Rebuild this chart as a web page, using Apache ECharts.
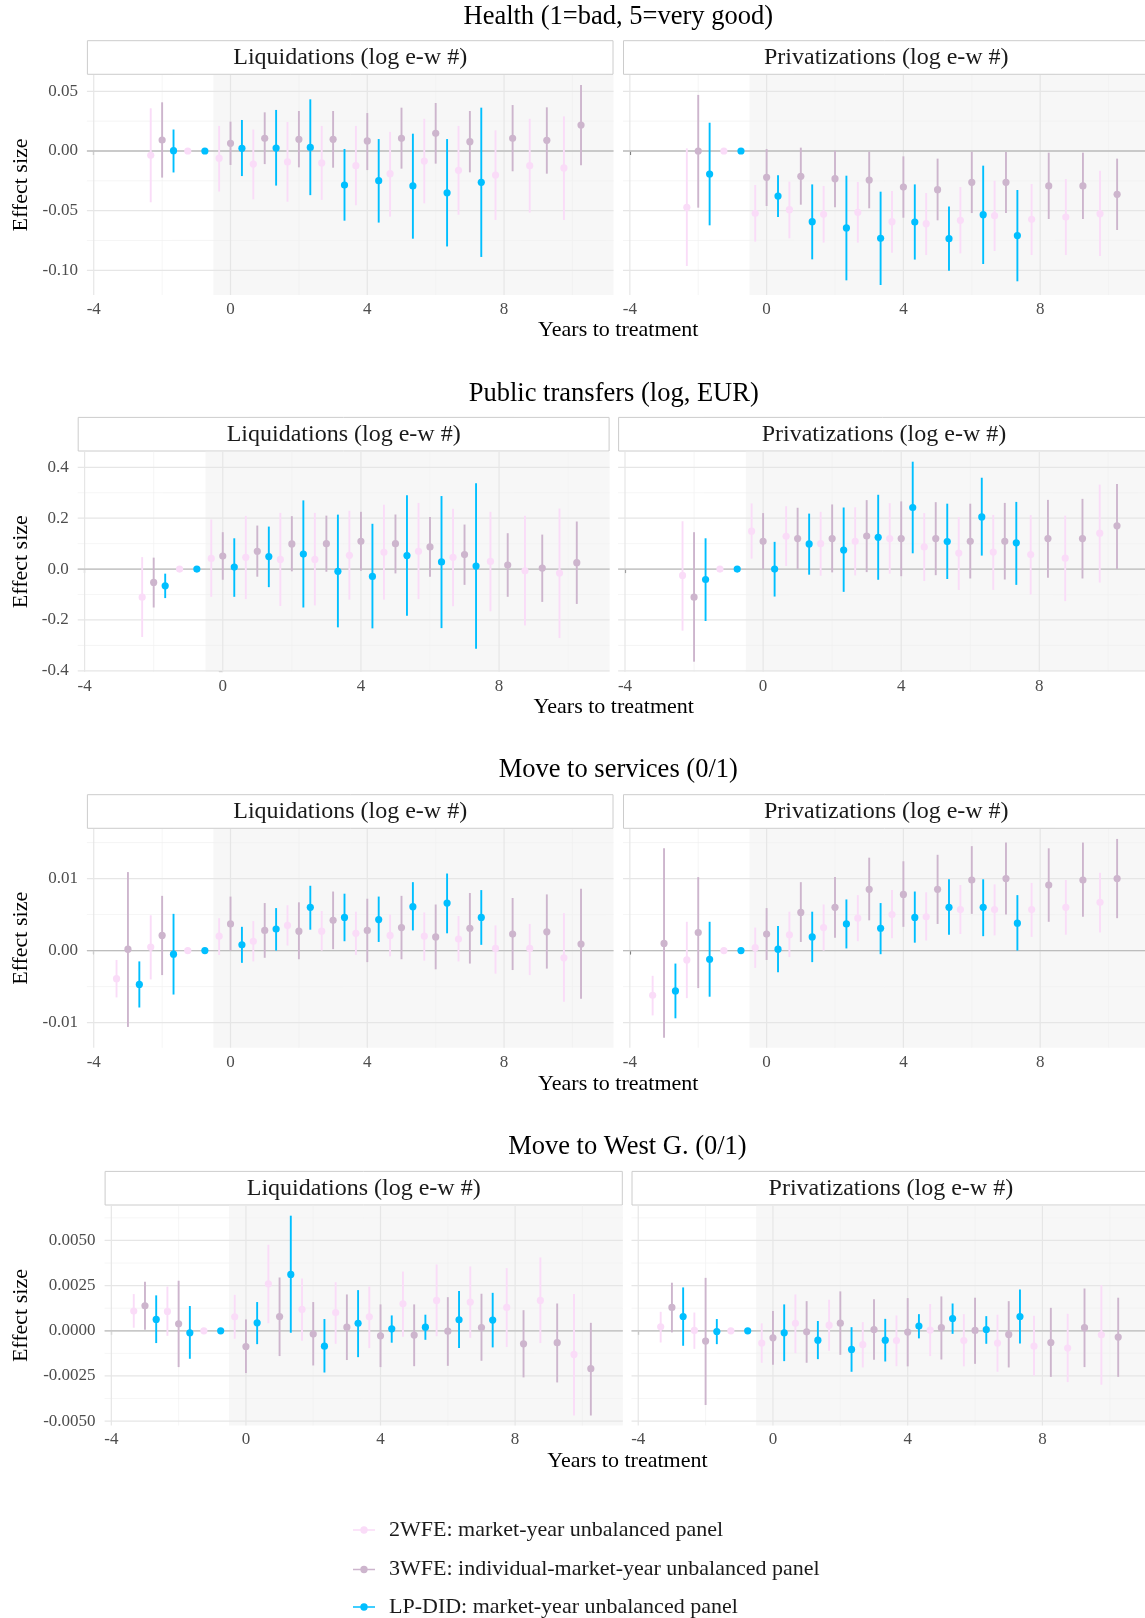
<!DOCTYPE html>
<html>
<head>
<meta charset="utf-8">
<title>Event-study estimates</title>
<script src="https://cdn.jsdelivr.net/npm/echarts@6/dist/echarts.min.js"></script>
<style>
  html, body { margin: 0; padding: 0; background: #fff; }
  #main { width: 1145px; height: 1618px; }
</style>
</head>
<body>
<div id="main"></div>
<script>
// event time relative to treatment
const years = [-3, -2, -1, 0, 1, 2, 3, 4, 5, 6, 7, 8, 9, 10];
const xTicks = [-4, 0, 4, 8];
const xMinorTicks = [-2, 2, 6, 10];

const methods = [
  '2WFE: market-year unbalanced panel',
  '3WFE: individual-market-year unbalanced panel',
  'LP-DID: market-year unbalanced panel'
];
const facetNames = ['Liquidations (log e-w #)', 'Privatizations (log e-w #)'];
const outcomes = ['Health (1=bad, 5=very good)', 'Public transfers (log, EUR)', 'Move to services (0/1)', 'Move to West G. (0/1)'];

const healthTicks = [-0.10, -0.05, 0, 0.05];
const transfersTicks = [-0.4, -0.2, 0, 0.2, 0.4];
const servicesTicks = [-0.01, 0, 0.01];
const westTicks = [-0.005, -0.0025, 0, 0.0025, 0.005];

// [estimate, lower, upper] per event time (years)
const healthLiq2wfe = [null, [-0.0036,-0.043,0.0358], [0,0,0], [-0.006,-0.034,0.021], [-0.011,-0.0405,0.018], [-0.0092,-0.0425,0.0243], [-0.010,-0.041,0.021], [-0.0123,-0.0455,0.021], [-0.019,-0.055,0.016], [-0.0084,-0.0439,0.027], [-0.0162,-0.0534,0.021], [-0.0201,-0.0578,0.0173], [-0.0123,-0.0517,0.027], [-0.0142,-0.0578,0.029]];
const healthLiq3wfe = [null, [0.0092,-0.0223,0.0408], null, [0.0064,-0.0117,0.0246], [0.0106,-0.011,0.0324], [0.0098,-0.0137,0.0335], [0.0098,-0.014,0.0335], [0.0084,-0.016,0.0318], [0.0106,-0.0148,0.0363], [0.0148,-0.0106,0.0402], [0.0078,-0.0179,0.0335], [0.0106,-0.017,0.0385], [0.0089,-0.019,0.0366], [0.0218,-0.012,0.0553]];
const healthLiqLpdid = [null, [0.0003,-0.018,0.018], [0,0,0], [0.0022,-0.021,0.026], [0.0025,-0.029,0.0344], [0.003,-0.037,0.0433], [-0.0285,-0.0584,0.0017], [-0.0249,-0.060,0.010], [-0.0293,-0.0735,0.0145], [-0.035,-0.080,0.010], [-0.0263,-0.0888,0.0363], null, null, null];

const healthPriv2wfe = [null, [-0.0472,-0.0964,0.0022], [0,0,0], [-0.0522,-0.076,-0.0285], [-0.0492,-0.0732,-0.0257], [-0.0531,-0.0768,-0.0293], [-0.0514,-0.0768,-0.026], [-0.0592,-0.0852,-0.0335], [-0.0609,-0.0872,-0.0352], [-0.0581,-0.0858,-0.0302], [-0.0542,-0.0838,-0.0249], [-0.0573,-0.0872,-0.0277], [-0.0553,-0.0872,-0.0235], [-0.0525,-0.088,-0.0165]];
const healthPriv3wfe = [null, [0.0,-0.0475,0.047], null, [-0.0221,-0.0461,0.0017], [-0.0212,-0.045,0.0028], [-0.0232,-0.0472,0.0003], [-0.0243,-0.048,-0.0006], [-0.0302,-0.0559,-0.0045], [-0.0324,-0.0581,-0.0064], [-0.0263,-0.052,-0.0006], [-0.0263,-0.052,-0.0008], [-0.0293,-0.057,-0.0014], [-0.0293,-0.057,-0.0014], [-0.0363,-0.0662,-0.0064]];
const healthPrivLpdid = [null, [-0.0193,-0.0623,0.0237], [0,0,0], [-0.0377,-0.0553,-0.0204], [-0.0592,-0.0908,-0.028], [-0.0645,-0.1084,-0.0207], [-0.0732,-0.1123,-0.0341], [-0.0595,-0.091,-0.028], [-0.0735,-0.1003,-0.0466], [-0.0534,-0.0947,-0.0123], [-0.0709,-0.1092,-0.0327], null, null, null];

const transfersLiq2wfe = [null, [-0.1105,-0.267,0.047], [0,0,0], [0.042,-0.109,0.195], [0.046,-0.118,0.209], [0.038,-0.145,0.221], [0.038,-0.143,0.221], [0.054,-0.12,0.229], [0.066,-0.12,0.253], [0.070,-0.118,0.26], [0.046,-0.146,0.237], [0.030,-0.166,0.225], [-0.0066,-0.222,0.21], [-0.0158,-0.271,0.238]];
const transfersLiq3wfe = [null, [-0.0526,-0.151,0.045], null, [0.051,-0.042,0.145], [0.070,-0.030,0.171], [0.099,-0.009,0.208], [0.100,-0.0105,0.21], [0.109,-0.0066,0.225], [0.100,-0.017,0.2145], [0.087,-0.030,0.205], [0.057,-0.062,0.175], [0.016,-0.109,0.141], [0.004,-0.129,0.1355], [0.025,-0.137,0.187]];
const transfersLiqLpdid = [null, [-0.0658,-0.114,-0.018], [0,0,0], [0.008,-0.109,0.121], [0.049,-0.071,0.167], [0.059,-0.151,0.27], [-0.009,-0.229,0.214], [-0.029,-0.233,0.178], [0.053,-0.183,0.29], [0.028,-0.232,0.287], [0.012,-0.313,0.337], null, null, null];

const transfersPriv2wfe = [null, [-0.025,-0.242,0.188], [0,0,0], [0.149,0.041,0.258], [0.129,0.012,0.247], [0.100,-0.026,0.225], [0.109,-0.025,0.243], [0.120,-0.018,0.259], [0.087,-0.047,0.22], [0.063,-0.082,0.204], [0.067,-0.082,0.213], [0.057,-0.100,0.212], [0.043,-0.126,0.21], [0.141,-0.053,0.332]];
const transfersPriv3wfe = [null, [-0.1105,-0.364,0.145], null, [0.109,0.0,0.22], [0.120,0.0,0.241], [0.120,-0.013,0.254], [0.130,-0.012,0.271], [0.120,-0.028,0.266], [0.120,-0.024,0.263], [0.109,-0.037,0.257], [0.109,-0.041,0.26], [0.120,-0.034,0.272], [0.120,-0.037,0.276], [0.170,0.0,0.334]];
const transfersPrivLpdid = [null, [-0.041,-0.204,0.121], [0,0,0], [0.0,-0.108,0.107], [0.099,-0.022,0.218], [0.075,-0.0895,0.242], [0.125,-0.042,0.292], [0.242,0.062,0.422], [0.108,-0.039,0.257], [0.205,0.053,0.359], [0.103,-0.062,0.264], null, null, null];

const servicesLiq2wfe = [[-0.0039,-0.0065,-0.0013], [0.0005,-0.004,0.0049], [0,0,0], [0.002,-0.0006,0.0045], [0.0013,-0.0015,0.0041], [0.0035,0.0007,0.0063], [0.0027,0.0,0.0055], [0.0024,-0.0006,0.0054], [0.0021,-0.0008,0.005], [0.002,-0.0014,0.0053], [0.0016,-0.0015,0.0048], [0.0003,-0.0032,0.0035], [0.0003,-0.0034,0.0037], [-0.001,-0.0071,0.0052]];
const servicesLiq3wfe = [[0.0002,-0.0106,0.0109], [0.0021,-0.0034,0.0076], null, [0.0037,0.0,0.0075], [0.0028,-0.001,0.0066], [0.0027,-0.0012,0.0067], [0.0042,0.0002,0.0082], [0.0028,-0.0016,0.0072], [0.0032,-0.0012,0.0076], [0.0019,-0.0026,0.0064], [0.0031,-0.0018,0.008], [0.0023,-0.0027,0.0073], [0.0026,-0.0025,0.0078], [0.0009,-0.0067,0.0086]];
const servicesLiqLpdid = [[-0.0047,-0.0079,-0.0015], [-0.0005,-0.0061,0.0051], [0,0,0], [0.0008,-0.0017,0.0033], [0.003,0.0,0.0059], [0.006,0.0029,0.009], [0.0046,0.0013,0.0079], [0.0043,0.0012,0.0075], [0.0061,0.0028,0.0095], [0.0066,0.0024,0.0107], [0.0046,0.0008,0.0084], null, null, null];

const servicesPriv2wfe = [[-0.0062,-0.009,-0.0035], [-0.0013,-0.0066,0.004], [0,0,0], [0.0004,-0.0024,0.0032], [0.0022,-0.0009,0.0054], [0.0032,0.0,0.0064], [0.0045,0.0013,0.0077], [0.005,0.0017,0.0084], [0.0047,0.0014,0.0081], [0.0057,0.0023,0.0091], [0.0057,0.0021,0.0092], [0.0057,0.0019,0.0094], [0.006,0.0022,0.0098], [0.0067,0.0025,0.0108]];
const servicesPriv3wfe = [[0.001,-0.0121,0.0142], [0.0025,-0.0052,0.0102], null, [0.0023,-0.0013,0.0059], [0.0053,0.0012,0.0095], [0.006,0.0018,0.0102], [0.0085,0.0042,0.0129], [0.0078,0.0033,0.0124], [0.0085,0.0037,0.0133], [0.0098,0.0051,0.0145], [0.010,0.005,0.015], [0.0091,0.004,0.0142], [0.0098,0.0047,0.015], [0.010,0.0045,0.0155]];
const servicesPrivLpdid = [[-0.0056,-0.0094,-0.0018], [-0.0012,-0.0064,0.004], [0,0,0], [0.0002,-0.003,0.0034], [0.0019,-0.0016,0.0054], [0.0037,0.0003,0.0071], [0.0031,-0.0005,0.0066], [0.0046,0.0011,0.0082], [0.006,0.0022,0.0099], [0.006,0.002,0.0099], [0.0038,0.0,0.0077], null, null, null];

const westLiq2wfe = [[0.00109,0.00017,0.00203], [0.00107,-0.00028,0.00245], [0,0,0], [0.00077,-0.00044,0.00199], [0.0026,0.00042,0.00476], [0.00118,-0.00055,0.0029], [0.00101,-0.00072,0.00269], [0.00077,-0.00096,0.00245], [0.00149,-0.00033,0.00328], [0.00168,-0.0003,0.00367], [0.00159,-0.00039,0.00356], [0.00129,-0.0009,0.00347], [0.00168,-0.00068,0.00406], [-0.00131,-0.00469,0.00203]];
const westLiq3wfe = [[0.00138,0.00006,0.00271], [0.00039,-0.00201,0.00277], null, [-0.00087,-0.00234,0.00063], [0.00079,-0.0014,0.00295], [-0.00018,-0.00192,0.00159], [0.0002,-0.00162,0.00201], [-0.00028,-0.00201,0.00146], [-0.00024,-0.00196,0.00146], [-0.00002,-0.00194,0.00186], [0.00018,-0.00166,0.00205], [-0.00072,-0.00258,0.00114], [-0.00066,-0.00286,0.00151], [-0.0021,-0.00469,0.00044]];
const westLiqLpdid = [[0.00063,-0.00068,0.00196], [-0.00011,-0.00155,0.00137], [0,0,0], [0.00044,-0.00074,0.00159], [0.00312,-0.00011,0.00637], [-0.00085,-0.00231,0.00065], [0.00041,-0.00146,0.00225], [0.00011,-0.00066,0.00085], [0.0002,-0.0005,0.00089], [0.00061,-0.00096,0.0022], [0.00059,-0.00092,0.0021], null, null, null];

const westPriv2wfe = [[0.00022,-0.00065,0.00105], [0.00002,-0.001,0.00101], [0,0,0], [-0.00068,-0.00177,0.00041], [0.00041,-0.00124,0.00201], [0.00031,-0.00111,0.00172], [-0.00077,-0.00203,0.00048], [-0.00054,-0.00196,0.00085], [0.00004,-0.0014,0.00148], [-0.00054,-0.00197,0.00092], [-0.00068,-0.00227,0.00089], [-0.00085,-0.00249,0.00083], [-0.00096,-0.00284,0.00094], [-0.00022,-0.00299,0.00253]];
const westPriv3wfe = [[0.00129,-0.00009,0.00266], [-0.00057,-0.00411,0.00293], null, [-0.00039,-0.00188,0.00109], [-0.00006,-0.00177,0.00164], [0.00042,-0.00133,0.00218], [0.00007,-0.00161,0.00175], [-0.00007,-0.00197,0.00181], [0.00017,-0.00159,0.0019], [0.00002,-0.00183,0.00183], [-0.0002,-0.00203,0.00164], [-0.00065,-0.00255,0.00127], [0.00017,-0.00201,0.00234], [-0.00035,-0.00255,0.00183]];
const westPrivLpdid = [[0.00079,-0.00083,0.0024], [-0.00004,-0.00074,0.00065], [0,0,0], [-0.00011,-0.00168,0.00146], [-0.00052,-0.00157,0.00054], [-0.00103,-0.00227,0.0002], [-0.00052,-0.0017,0.00066], [0.00026,-0.00042,0.00092], [0.00068,-0.00017,0.00151], [0.00007,-0.00072,0.00081], [0.00079,-0.0007,0.00229], null, null, null];

// ---- layout / style ----
const FONT = '"Liberation Serif", "Times New Roman", serif';
const colors = ['#fadcf8', '#cdb5cd', '#00bfff'];
const X_MIN = -4.2, X_MAX = 11.2;

const rows = [
  { ticks: healthTicks, dec: 2, facets: [[healthLiq2wfe, healthLiq3wfe, healthLiqLpdid], [healthPriv2wfe, healthPriv3wfe, healthPrivLpdid]],
    top: 75, height: 220, lefts: [86.9, 623], widths: [526.6, 526.6], titleY: 17.5, xTitleY: 330 },
  { ticks: transfersTicks, dec: 1, facets: [[transfersLiq2wfe, transfersLiq3wfe, transfersLiqLpdid], [transfersPriv2wfe, transfersPriv3wfe, transfersPrivLpdid]],
    top: 451.7, height: 220, lefts: [77.7, 618.1], widths: [531.9, 531.7], titleY: 394, xTitleY: 707.7 },
  { ticks: servicesTicks, dec: 2, facets: [[servicesLiq2wfe, servicesLiq3wfe, servicesLiqLpdid], [servicesPriv2wfe, servicesPriv3wfe, servicesPrivLpdid]],
    top: 829, height: 218.7, lefts: [86.9, 623], widths: [526.6, 526.6], titleY: 770.5, xTitleY: 1084 },
  { ticks: westTicks, dec: 4, facets: [[westLiq2wfe, westLiq3wfe, westLiqLpdid], [westPriv2wfe, westPriv3wfe, westPrivLpdid]],
    top: 1205.7, height: 219.8, lefts: [104.6, 631.5], widths: [518.2, 518.7], titleY: 1147, xTitleY: 1461.7 }
];
const legendRowsY = [1530, 1569.5, 1607];

// ggplot-like dodge: groups present at a time point share width 1
function dodge(groups) {
  const out = groups.map(() => []);
  years.forEach((t, i) => {
    const present = groups.map((g, k) => (g[i] ? k : -1)).filter(k => k >= 0);
    const n = present.length;
    present.forEach((k, j) => {
      const v = groups[k][i];
      out[k].push([t + (j - (n - 1) / 2) / n, v[0], v[1], v[2]]);
    });
  });
  return out;
}

function yRange(row) {
  let lo = Infinity, hi = -Infinity;
  row.facets.forEach(f => f.forEach(g => g.forEach(v => {
    if (v) { lo = Math.min(lo, v[1]); hi = Math.max(hi, v[2]); }
  })));
  const pad = (hi - lo) * 0.05;
  return [lo - pad, hi + pad];
}

function minorOf(ticks, min, max) {
  const step = ticks[1] - ticks[0];
  const res = [];
  for (let i = -1; i < ticks.length; i++) {
    const v = ticks[0] + step * (i + 0.5);
    if (v > min && v < max) res.push(v);
  }
  return res;
}

function panelRenderer(yMajor, yMinor) {
  return function (params, api) {
    const cs = params.coordSys;
    const right = cs.x + cs.width, bottom = cs.y + cs.height;
    const ch = [];
    const sx = api.coord([-0.5, 0])[0];
    ch.push({ type: 'rect', shape: { x: sx, y: cs.y, width: right - sx, height: cs.height }, style: { fill: '#f7f7f7' } });
    const vline = (v, c, w) => { const px = api.coord([v, 0])[0];
      ch.push({ type: 'line', shape: { x1: px, y1: cs.y, x2: px, y2: bottom }, style: { stroke: c, lineWidth: w } }); };
    const hline = (v, c, w) => { const py = api.coord([0, v])[1];
      ch.push({ type: 'line', shape: { x1: cs.x, y1: py, x2: right, y2: py }, style: { stroke: c, lineWidth: w } }); };
    xMinorTicks.forEach(v => vline(v, '#f0f0f0', 0.7));
    yMinor.forEach(v => hline(v, '#f0f0f0', 0.7));
    xTicks.forEach(v => vline(v, '#e6e6e6', 1.2));
    yMajor.forEach(v => hline(v, '#e6e6e6', 1.2));
    hline(0, '#bdbdbd', 1.3);
    return { type: 'group', children: ch };
  };
}

function renderRange(params, api) {
  const x = api.value(0);
  const c = api.coord([x, api.value(1)]);
  const lo = api.coord([x, api.value(2)]);
  const hi = api.coord([x, api.value(3)]);
  const color = api.visual('color');
  return { type: 'group', children: [
    { type: 'line', shape: { x1: hi[0], y1: hi[1], x2: lo[0], y2: lo[1] }, style: { stroke: color, lineWidth: 1.9 } },
    { type: 'circle', shape: { cx: c[0], cy: c[1], r: 3.6 }, style: { fill: color } }
  ] };
}

const grids = [], xAxes = [], yAxes = [], series = [], elements = [];

rows.forEach((row, r) => {
  const [yMin, yMax] = yRange(row);
  const yMinor = minorOf(row.ticks, yMin, yMax);
  const fullLeft = row.lefts[0], fullRight = row.lefts[1] + row.widths[1];
  const cx = (fullLeft + fullRight) / 2;

  elements.push({ type: 'text', x: cx, y: row.titleY, silent: true,
    style: { text: outcomes[r], font: '26.5px ' + FONT, fill: '#000', align: 'center', verticalAlign: 'middle', textAlign: 'center', textVerticalAlign: 'middle' } });
  elements.push({ type: 'text', x: cx, y: row.xTitleY, silent: true,
    style: { text: 'Years to treatment', font: '22px ' + FONT, fill: '#000', align: 'center', verticalAlign: 'middle', textAlign: 'center', textVerticalAlign: 'middle' } });
  elements.push({ type: 'text', x: 21.7, y: row.top + row.height / 2, rotation: Math.PI / 2, silent: true,
    style: { text: 'Effect size', font: '22px ' + FONT, fill: '#000', align: 'center', verticalAlign: 'middle', textAlign: 'center', textVerticalAlign: 'middle' } });

  row.facets.forEach((groups, c) => {
    const gi = grids.length;
    grids.push({ left: row.lefts[c], top: row.top, width: row.widths[c], height: row.height, containLabel: false, outerBoundsMode: 'none' });
    xAxes.push({
      gridIndex: gi, type: 'value', min: X_MIN, max: X_MAX,
      axisLine: { show: false },
      axisTick: { show: true, length: 4, lineStyle: { color: '#333', width: 1.1 }, customValues: xTicks },
      axisLabel: { customValues: xTicks, color: '#4d4d4d', fontFamily: FONT, fontSize: 17, margin: 6, formatter: v => String(v) },
      splitLine: { show: false }
    });
    yAxes.push({
      gridIndex: gi, type: 'value', min: yMin, max: yMax,
      axisLine: { show: false },
      axisTick: { show: c === 0, length: 4, lineStyle: { color: '#333', width: 1.1 }, customValues: row.ticks },
      axisLabel: { show: c === 0, customValues: row.ticks, color: '#4d4d4d', fontFamily: FONT, fontSize: 17, margin: 9,
        formatter: v => v.toFixed(row.dec) },
      splitLine: { show: false }
    });
    series.push({ type: 'custom', xAxisIndex: gi, yAxisIndex: gi, z: 1, silent: true, clip: false,
      renderItem: panelRenderer(row.ticks, yMinor), data: [[0, 0]] });
    dodge(groups).forEach((pts, k) => {
      series.push({ type: 'custom', name: methods[k], xAxisIndex: gi, yAxisIndex: gi, z: 2 + k, silent: true,
        itemStyle: { color: colors[k] }, encode: { x: 0, y: [1, 2, 3] }, renderItem: renderRange, data: pts });
    });

    const sTop = row.top - 34.3;
    elements.push({ type: 'rect', silent: true, shape: { x: row.lefts[c] + 0.5, y: sTop, width: row.widths[c] - 1, height: 33.6 },
      style: { fill: '#fff', stroke: '#cccccc', lineWidth: 1 } });
    elements.push({ type: 'text', silent: true, x: row.lefts[c] + row.widths[c] / 2, y: sTop + 17,
      style: { text: facetNames[c], font: '24px ' + FONT, fill: '#1a1a1a', align: 'center', verticalAlign: 'middle', textAlign: 'center', textVerticalAlign: 'middle' } });
  });
});

const keyIcon = 'path://M0,4.3H22V5.7H0Z M11,1.3A3.7,3.7,0,1,1,10.99,1.3Z';

// one legend block per entry, stacked like the ggplot guide
const legends = methods.map((m, i) => ({
  orient: 'horizontal', left: 353, top: legendRowsY[i] - 11, padding: 0,
  itemWidth: 22, itemHeight: 10, selectedMode: false,
  textStyle: { fontFamily: FONT, fontSize: 22, color: '#1a1a1a', lineHeight: 22, padding: [0, 0, 0, 9] },
  data: [{ name: m, icon: keyIcon, itemStyle: { color: colors[i] } }]
}));

const option = {
  animation: false,
  textStyle: { fontFamily: FONT },
  grid: grids,
  xAxis: xAxes,
  yAxis: yAxes,
  series: series,
  legend: legends,
  graphic: { elements: elements }
};

const chart = echarts.init(document.getElementById('main'), null, { renderer: 'canvas', width: 1145, height: 1618 });
chart.setOption(option);
</script>
</body>
</html>
